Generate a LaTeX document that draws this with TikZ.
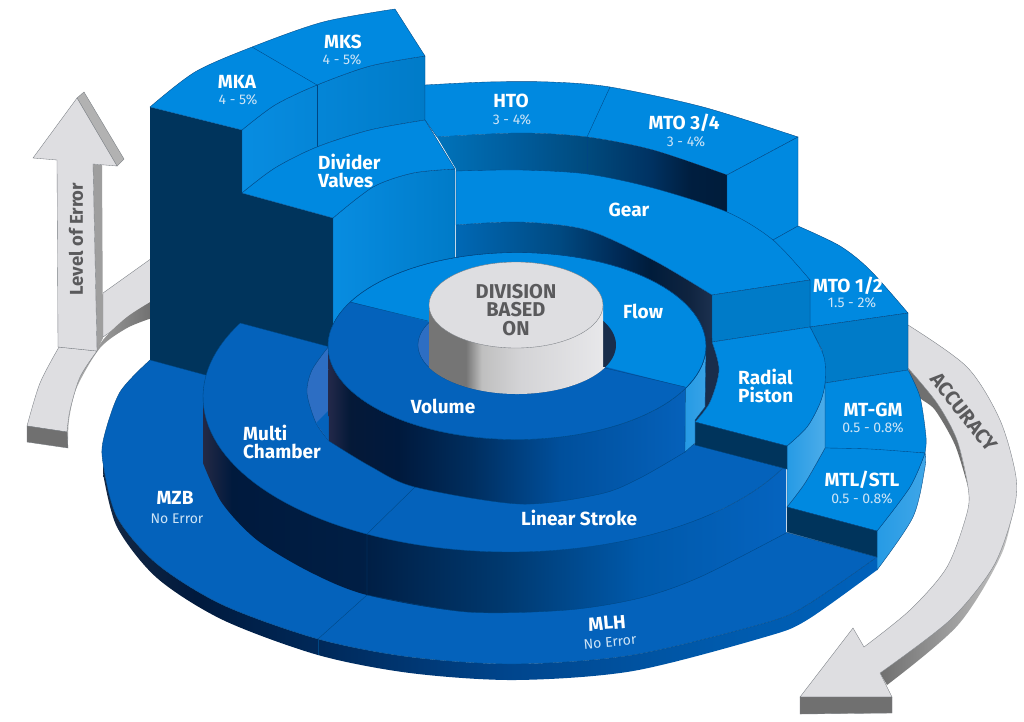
\documentclass[tikz,border=0pt]{standalone}
\usepackage{fontspec}
\setmainfont{Fira Sans}
\definecolor{topL}{RGB}{0,137,224}
\definecolor{topD}{RGB}{4,98,187}
\definecolor{navy}{RGB}{0,52,92}
\definecolor{edgec}{RGB}{0,70,130}
\definecolor{sideM}{RGB}{0,123,200}
\definecolor{crescent}{RGB}{25,45,75}
\definecolor{holeB}{RGB}{45,110,195}
\definecolor{grayL}{RGB}{222,222,225}
\definecolor{grayE}{RGB}{120,125,130}
\definecolor{grayD}{RGB}{112,112,112}
\definecolor{grayT}{RGB}{90,90,92}
\definecolor{subT}{RGB}{205,228,246}
\pgfdeclarehorizontalshading{wallzero}{100bp}{
 rgb(0bp)=(.08,.16,.27); rgb(25bp)=(.08,.16,.27); rgb(31bp)=(0,.10,.24); rgb(39bp)=(0,.16,.35);
 rgb(51bp)=(0,.27,.55); rgb(64bp)=(0,.35,.67); rgb(75bp)=(0,.38,.73); rgb(100bp)=(0,.38,.73)}
\pgfdeclarehorizontalshading{wallone}{100bp}{
 rgb(0bp)=(.14,.16,.27); rgb(25bp)=(.14,.16,.27); rgb(27.5bp)=(0,.10,.24); rgb(39bp)=(0,.12,.27);
 rgb(50.5bp)=(0,.22,.43); rgb(62.5bp)=(0,.35,.67); rgb(75bp)=(.02,.39,.75); rgb(100bp)=(.02,.39,.75)}
\pgfdeclarehorizontalshading{wallvol}{100bp}{
 rgb(0bp)=(.14,.16,.29); rgb(25bp)=(.14,.16,.29); rgb(28bp)=(.02,.10,.22); rgb(35bp)=(0,.10,.24);
 rgb(45bp)=(0,.18,.37); rgb(57.5bp)=(0,.31,.61); rgb(75bp)=(.02,.38,.73); rgb(100bp)=(.02,.38,.73)}
\pgfdeclarehorizontalshading{wallflow}{100bp}{
 rgb(0bp)=(0,.41,.71); rgb(25bp)=(0,.41,.71); rgb(45bp)=(0,.29,.51); rgb(57bp)=(0,.16,.33);
 rgb(63bp)=(0,.11,.23); rgb(70.5bp)=(.06,.14,.25); rgb(75bp)=(.11,.19,.31); rgb(100bp)=(.11,.19,.31)}
\pgfdeclarehorizontalshading{wallhto}{100bp}{
 rgb(0bp)=(0,.45,.73); rgb(25bp)=(0,.45,.73); rgb(39bp)=(0,.36,.61); rgb(51bp)=(0,.29,.49);
 rgb(61.5bp)=(0,.20,.39); rgb(68.5bp)=(0,.12,.25); rgb(75bp)=(0,.11,.23); rgb(100bp)=(0,.11,.23)}
\pgfdeclarehorizontalshading{cyl}{100bp}{
 rgb(0bp)=(.46,.46,.46); rgb(35.5bp)=(.46,.46,.46); rgb(40bp)=(.75,.75,.75);
 rgb(51bp)=(.83,.83,.84); rgb(75bp)=(.91,.91,.92); rgb(100bp)=(.91,.91,.92)}
\tikzset{
 face/.style={draw=edgec,line width=.35pt},
 graye/.style={draw=grayE,line width=.35pt},
 lab/.style={font=\fontsize{19}{18}\selectfont\bfseries,text=white,inner sep=0pt},
 sublab/.style={font=\fontsize{14}{15}\selectfont,text=subT,inner sep=0pt},
 darklab/.style={font=\fontsize{20}{18.5}\selectfont\bfseries,text=grayT,inner sep=0pt,align=center}
}
\begin{document}
\begin{tikzpicture}[x=1pt,y=-1pt]
\useasboundingbox (0,0) rectangle (1024,721);
\fill[white] (0,0) rectangle (1024,721);
% ---------- Accuracy arrow
\shade[left color=grayD,right color=black!22] plot[smooth] coordinates {(880,673)(950,620)(993,567)(1013,513)(1016,480)} -- plot[smooth] coordinates {(1016,494)(1002,553)(958,625)(887,685)} -- cycle;
\fill[grayD] plot[smooth] coordinates {(908,368)(937,403)(957,440)(968,487)} -- plot[smooth] coordinates {(968,487)(955,445)(935,410)(920,398)(912,385)} -- cycle;
\fill[grayL,graye] plot[smooth] coordinates {(908,325)(967,367)(1000,420)(1016,477)(1013,513)(993,567)(950,620)(880,673)} -- (892,697) -- (800,697) -- (853,628) -- plot[smooth] coordinates {(864,647)(910,610)(947,567)(967,513)(968,487)(957,440)(937,403)(908,368)} -- cycle;
\fill[grayD,graye] (800,697) -- (892,697) -- (892,713) -- (800,714) -- cycle;
% ---------- Level of error arrow
\fill[grayL,graye] (103,293) -- (152,258) -- (152,303) -- (103,337) -- cycle;
\shade[left color=black!30,right color=grayD] plot[smooth] coordinates {(67,432)(70,410)(80,377)(103,340)(127,317)(152,301)} -- (152,318) -- plot[smooth] coordinates {(152,318)(127,328)(100,348)(77,387)(69,420)(68,448)} -- cycle;
\fill[grayL,graye] (59,347) -- (97,351) -- plot[smooth] coordinates {(97,351)(80,377)(70,410)(67,432)} -- (27,426) -- plot[smooth] coordinates {(27,426)(40,383)(59,347)} -- cycle;
\fill[grayD,graye] (27,426) -- (67,432) -- (68,448) -- (27,442) -- cycle;
\fill[black!30,graye] (77,98) -- (84,92) -- (124,159) -- (117,166) -- cycle;
\fill[black!38] (93,164) -- (102,165) -- (103,338) -- (97,350) -- cycle;
\fill[grayL,graye] (77,98) -- (33,158) -- (57,160) -- (58,347) -- (97,351) -- (93,164) -- (117,166) -- cycle;
% ---------- Back tier
\fill[navy] (150,107) -- (242,130) -- (242,193) -- (333,218) -- (333,425) -- (150,380) -- cycle;
\shade[left color=topL!97!white,right color=sideM,face] plot[smooth] coordinates {(242,130)(275,105)(317,85)(370,66)(425,56)} -- (425,120) -- plot[smooth] coordinates {(425,120)(370,130)(317,147)(275,168)(242,193)} -- cycle;
\draw[face] (317,85) -- (317,147);
\fill[topL,face] plot[smooth] coordinates {(150,107)(195,72)(252,47)(323,22)(395,9)} -- (425,56) -- plot[smooth] coordinates {(425,56)(370,66)(317,85)(275,105)(242,130)} -- cycle;
\draw[face] (252,47) -- (317,85);
% HTO / MTO 3/4
\fill[topL,face] plot[smooth] coordinates {(425,85)(487,82)(550,82)(610,87)(703,107)(798,137)} -- (727,175) -- plot[smooth] coordinates {(727,175)(653,150)(587,137)(520,133)(437,137)} -- (425,120) -- cycle;
\draw[face] (610,87) -- (587,137);
\shade[shading=wallhto] plot[smooth] coordinates {(437,137)(520,133)(587,137)(653,150)(727,175)} -- (727,214) -- (456,182) -- (456,169) -- cycle;
\draw[face] (587,137) -- (587,176);
\draw[face] (727,175) -- (727,212);
\fill[topL,face] (727,175) -- (798,137) -- (798,226) -- (773,240) -- (727,212) -- cycle;
% MTO 1/2
\fill[topL,face] plot[smooth] coordinates {(798,226)(840,246)(870,270)(908,313)} -- (810,327) -- (810,280) -- (773,240) -- cycle;
\fill[sideM,face] (810,327) -- (908,313) -- (908,370) -- (825,383) -- (822,350) -- cycle;
% Gear
\shade[shading=wallflow] plot[smooth] coordinates {(456,225)(520,222)(587,230)(653,260)(712,295)} -- (712,345) -- (456,345) -- cycle;
\fill[topL,face] plot[smooth] coordinates {(456,171)(520,170)(587,174)(653,188)(727,212)(773,240)(810,280)} -- (712,295) -- plot[smooth] coordinates {(712,295)(653,260)(587,230)(520,222)(456,225)} -- cycle;
\fill[sideM,face] (712,295) -- (810,280) -- (810,327) -- (712,342) -- cycle;
% Divider valves
\shade[left color=topL!97!white,right color=sideM,face] plot[smooth] coordinates {(333,218)(373,187)(413,173)(455,169)} -- (455,345) -- (333,345) -- cycle;
\fill[topL,face] plot[smooth] coordinates {(242,193)(275,168)(317,147)(370,130)(425,120)} -- (455,169) -- plot[smooth] coordinates {(455,169)(413,173)(373,187)(333,218)} -- cycle;
% ---------- Right tier
\fill[topL,face] (825,383) -- (908,370) -- plot[smooth] coordinates {(908,370)(920,397)(926,437)(925,453)} -- (825,448) -- cycle;
\shade[left color=topL!85!white,right color=topL!75!white,face] plot[smooth] coordinates {(925,453)(910,487)(877,531)} -- (877,570) -- plot[smooth] coordinates {(877,570)(913,517)(925,467)(925,453)} -- cycle;
\fill[topL,face] plot[smooth] coordinates {(825,448)(870,449)(925,453)} -- plot[smooth] coordinates {(925,453)(910,487)(877,531)} -- (787,507) -- plot[smooth] coordinates {(787,507)(805,483)(825,448)} -- cycle;
\shade[left color=topL!85!white,right color=topL!70!white,face] plot[smooth] coordinates {(787,446)(807,427)(820,403)(825,383)} -- (825,448) -- plot[smooth] coordinates {(825,448)(805,483)(787,507)} -- cycle;
\fill[crescent] (700,338) -- (712,338) -- plot[smooth] coordinates {(712,342)(719,370)(710,402)(695,422)} -- (680,420) -- cycle;
\fill[topL,face] (712,342) -- (810,327) -- plot[smooth] coordinates {(810,327)(824,357)(825,383)(820,403)(807,427)(787,446)} -- (695,422) -- plot[smooth] coordinates {(695,422)(710,402)(719,370)(712,342)} -- cycle;
% ---------- Level 0
\shade[shading=wallzero] plot[smooth] coordinates {(103,463)(117,517)(157,564)(223,605)(318,639)(410,657)(515,664)(633,655)(765,623)(807,605)(877,557)} -- (877,570) -- plot[smooth] coordinates {(877,570)(807,620)(765,637)(633,671)(515,680)(410,673)(318,655)(223,620)(157,578)(117,527)(103,473)} -- cycle;
\fill[topD,face] plot[smooth] coordinates {(150,360)(120,392)(104,437)(103,463)(117,517)(157,564)(223,605)(318,639)(410,657)(515,664)(633,655)(765,623)(807,605)(877,557)} -- cycle;
\draw[face] (318,639) -- (318,655);
\fill[navy,face] (787,507) -- (877,531) -- (877,557) -- (787,532) -- cycle;
% ---------- Level 1
\shade[shading=wallone] plot[domain=180:26,samples=70] ({510+307*cos(\x)},{397+155*sin(\x)}) -- (786,469) -- (786,533) -- plot[smooth] coordinates {(786,533)(700,577)(640,598)(567,610)(467,612)(367,595)(310,572)(257,540)(222,503)(203,463)} -- cycle;
\draw[face] plot[smooth] coordinates {(786,533)(700,577)(640,598)(567,610)(467,612)(367,595)};
\draw[face] (367,534) -- (367,595) -- (318,639);
\fill[topD,face] plot[domain=208.5:26,samples=80] ({510+307*cos(\x)},{397+155*sin(\x)}) -- (787,469) -- cycle;
\fill[navy,face] (695,422) -- (787,446) -- (787,469) -- (695,445) -- cycle;
\draw[face] (367,534) -- (415,487);
% ---------- Inner hole and Volume wall
\fill[holeB,face] plot[smooth] coordinates {(329,346)(312,370)(307,393)(316,423)(329,441)} -- cycle;
\fill[topD] (316,423) -- (329,410) -- (329,441) -- cycle;
\shade[shading=wallvol] plot[domain=180:27,samples=60] ({517+189*cos(\x)},{346+93.5*sin(\x)}) -- plot[smooth] coordinates {(685,452)(640,478)(600,494)(520,504)(415,487)(370,466)(329,441)} -- cycle;
\draw[face] plot[smooth] coordinates {(685,452)(640,478)(600,494)(520,504)(415,487)(370,466)(329,441)};
\shade[left color=topL!85!white,right color=topL!78!white,face] plot[domain=27:0,samples=20] ({517+189*cos(\x)},{346+93.5*sin(\x)}) -- (705,407) -- (695,420) -- (695,443) -- (685,452) -- cycle;
% ---------- Flow / Volume ring
\fill[topL,face] plot[domain=0:360,samples=120] ({517+189*cos(\x)},{346+93.5*sin(\x)}) -- cycle;
\begin{scope}
\clip plot[domain=0:360,samples=120] ({517+189*cos(\x)},{346+93.5*sin(\x)}) -- cycle;
\fill[topD] (300,289) -- (720,396) -- (720,460) -- (300,460) -- cycle;
\end{scope}
\draw[face] plot[domain=0:360,samples=120] ({517+189*cos(\x)},{346+93.5*sin(\x)}) -- cycle;
\draw[face] (350,302) -- (428,321);
\draw[face] (605,368) -- (685,387);
% hole
\fill[holeB,face] plot[domain=90:270,samples=60] ({517+99*cos(\x)},{345+49*sin(\x)}) -- cycle;
\fill[crescent] plot[domain=-90:90,samples=60] ({517+99*cos(\x)},{345+49*sin(\x)}) -- cycle;
% ---------- Cylinder
\shade[shading=cyl] (429,305) -- (429,367) -- plot[domain=153:27,samples=60] ({517+99*cos(\x)},{345+49*sin(\x)}) -- (603,367) -- (603,305) -- cycle;
\fill[grayL,draw=grayE,line width=.35pt] (516,305) ellipse [x radius=87,y radius=43];
% ---------- Labels
\node[darklab] (division) at (516,310) {DIVISION\\BASED\\ON};
\node[lab] (mks) at (343,42) {MKS};
\node[sublab] (mkss) at (342,60) {4 - 5\%};
\node[lab] (mka) at (237,82) {MKA};
\node[sublab] (mkas) at (238,100) {4 - 5\%};
\node[lab,anchor=west,align=left] (divider) at (318,171) {Divider\\Valves};
\node[lab] (hto) at (511,101) {HTO};
\node[sublab] (htos) at (512,120) {3 - 4\%};
\node[lab] (mto34) at (684,123) {MTO 3/4};
\node[sublab] (mto34s) at (686,142) {3 - 4\%};
\node[lab] (gear) at (629,210) {Gear};
\node[lab] (flow) at (643,311) {Flow};
\node[lab] (volume) at (443,406) {Volume};
\node[lab,anchor=west,align=left] (radial) at (738,386) {Radial\\Piston};
\node[lab] (mto12) at (848,286) {MTO 1/2};
\node[sublab] (mto12s) at (852,303) {1.5 - 2\%};
\node[lab] (mtgm) at (873,410) {MT-GM};
\node[sublab] (mtgms) at (873,428) {0.5 - 0.8\%};
\node[lab] (mtl) at (862,480) {MTL/STL};
\node[sublab] (mtls) at (862,499) {0.5 - 0.8\%};
\node[lab] (linear) at (579,518) {Linear Stroke};
\node[lab,anchor=west,align=left] (multi) at (243,442) {Multi\\Chamber};
\node[lab] (mzb) at (175,498) {MZB};
\node[sublab] (mzbs) at (177,519) {No Error};
\node[lab,rotate=5] (mlh) at (607,623) {MLH};
\node[sublab,rotate=5] (mlhs) at (610,642) {No Error};
\node[darklab,font=\fontsize{18.5}{18.5}\selectfont\bfseries,rotate=90] (level) at (76,239) {Level of Error};
\node[darklab,rotate=-52] (accuracy) at (964,412) {ACCURACY};
\end{tikzpicture}
\end{document}
